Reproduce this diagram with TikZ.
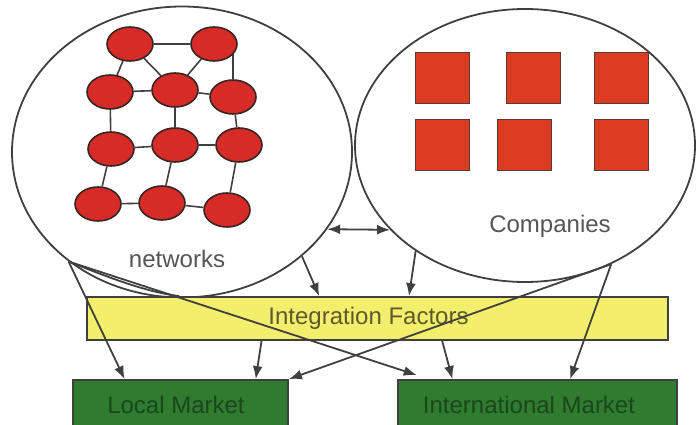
\documentclass[tikz,border=0pt]{standalone}
\usepackage{fontspec}
\setmainfont{Liberation Sans}
\usetikzlibrary{shapes.geometric,arrows.meta,calc,backgrounds}
\definecolor{lineC}{HTML}{404040}
\definecolor{netred}{HTML}{D62B27}
\definecolor{netborder}{HTML}{3A2424}
\definecolor{sqred}{HTML}{DB3B21}
\definecolor{sqborder}{HTML}{5A3A30}
\definecolor{intyellow}{HTML}{F3EF6C}
\definecolor{inttext}{HTML}{5F5A2E}
\definecolor{mktgreen}{HTML}{2F7B2F}
\definecolor{mkttext}{HTML}{1C461C}
\definecolor{labgray}{HTML}{555555}
\begin{document}
\begin{tikzpicture}[x=1pt,y=-1pt,
  net/.style={ellipse, draw=netborder, fill=netred, line width=1.6pt,
    minimum width=46pt, minimum height=34pt, inner sep=0pt},
  sq/.style={rectangle, draw=sqborder, fill=sqred, line width=1pt,
    minimum width=54pt, minimum height=51pt, inner sep=0pt},
  bigell/.style={ellipse, draw=lineC, line width=1.8pt, inner sep=0pt},
  netedge/.style={draw=lineC, line width=1.6pt},
  conn/.style={draw=lineC, line width=1.8pt, -{Latex[length=13pt,width=10pt]}},
  lab/.style={font=\fontsize{24}{28}\selectfont, text=labgray, anchor=base},
  intbox/.style={rectangle, draw=lineC, fill=intyellow, line width=1.8pt,
    inner sep=0pt, font=\fontsize{24}{28}\selectfont, text=inttext},
  mktbox/.style={rectangle, draw=lineC, fill=mktgreen, line width=1.8pt,
    inner sep=0pt, font=\fontsize{24}{28}\selectfont, text=mkttext}
]
\useasboundingbox (0,0) rectangle (696,425);

% big ellipses
\node[bigell, minimum width=340pt, minimum height=291pt] (L) at (182,152) {};
\node[bigell, minimum width=340pt, minimum height=273pt] (R) at (525,145.5) {};

% network nodes
\node[net] (a1) at (130,44) {};
\node[net] (a2) at (214,44) {};
\node[net] (b1) at (110,92) {};
\node[net] (b2) at (175,90) {};
\node[net] (b3) at (233,97) {};
\node[net] (c1) at (111,149) {};
\node[net] (c2) at (175,145) {};
\node[net] (c3) at (239,145) {};
\node[net] (d1) at (98,204) {};
\node[net] (d2) at (162,203) {};
\node[net] (d3) at (227,210) {};

\begin{scope}[on background layer]
  \draw[netedge] (a1) -- (a2);
  \draw[netedge] (a1) -- (b1);
  \draw[netedge] (a1) -- (b2);
  \draw[netedge] (a2) -- (b2);
  \draw[netedge] (a2.center -| b3.north) -- (b3.north);
  \draw[netedge] (b1) -- (b2);
  \draw[netedge] (b2) -- (b3);
  \draw[netedge] (b1) -- (c1);
  \draw[netedge] (b2) -- (c2);
  \draw[netedge] (b3) -- (c3);
  \draw[netedge] (c1) -- (c2);
  \draw[netedge] (c2) -- (c3);
  \draw[netedge] (c1) -- (d1);
  \draw[netedge] (c2) -- (d2);
  \draw[netedge] (c3) -- (d3);
  \draw[netedge] (d1) -- (d2);
  \draw[netedge] (d2) -- (d3);
\end{scope}

% company squares
\node[sq] (s1) at (442,78.5) {};
\node[sq] (s2) at (533,78.5) {};
\node[sq] (s3) at (621.5,78.5) {};
\node[sq] (s4) at (442,145) {};
\node[sq] (s5) at (524.5,145) {};
\node[sq] (s6) at (621,145) {};

% labels
\node[lab] (netlab) at (177,267) {networks};
\node[lab] (comlab) at (550,232) {Companies};

% boxes
\node[intbox, minimum width=581pt, minimum height=43pt] (I) at (377.5,318.5)
  {\hspace*{-18pt}Integration Factors};
\node[mktbox, minimum width=215pt, minimum height=50pt] (LM) at (180.5,405)
  {\hspace*{-9pt}Local Market};
\node[mktbox, minimum width=279pt, minimum height=50pt] (IM) at (537.5,405)
  {\hspace*{-17pt}International Market};

% connectors
\draw[draw=lineC, line width=1.8pt, {Latex[length=13pt,width=10pt]}-{Latex[length=13pt,width=10pt]}]
  (L.-28) -- (R.212);
\draw[conn] (L.-41) -- ($(I.north west)!0.4!(I.north east)$);
\draw[conn] (R.224) -- ($(I.north west)!0.554!(I.north east)$);
\draw[conn] (L.224) -- ($(LM.north west)!0.242!(LM.north east)$);
\draw[draw=lineC, line width=1.8pt] (L.224) .. controls (105,276) and (145,292) .. ($(I.north west)!0.16!(I.north east)$);
\draw[conn] (L.224) -- ($(IM.north west)!0.07!(IM.north east)+(0,-4)$);
\draw[conn] ($(I.south west)!0.301!(I.south east)$) -- ($(LM.north west)!0.847!(LM.north east)$);
\draw[conn] ($(I.south west)!0.611!(I.south east)$) -- ($(IM.north west)!0.197!(IM.north east)$);
\draw[conn] (R.-54) -- ($(IM.north west)!0.616!(IM.north east)$);
\draw[conn] (R.-54) -- (LM.north east);
\end{tikzpicture}
\end{document}
